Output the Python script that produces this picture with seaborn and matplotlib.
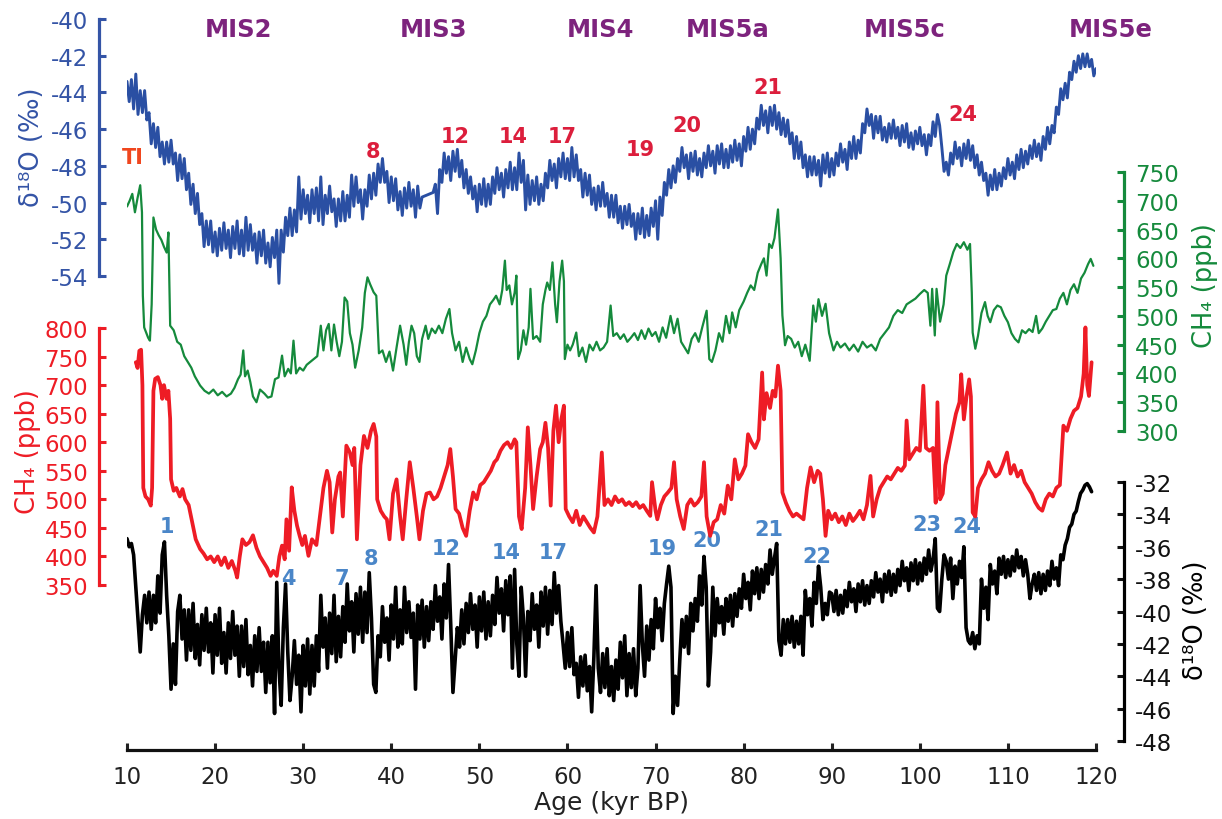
import numpy as np
import matplotlib
matplotlib.use("Agg")
import matplotlib.pyplot as plt
import seaborn as sns

# ---------------- data ----------------
# delta18O (blue, top), read every 0.25 kyr from 10 to 120 kyr BP
blue_age = np.arange(10.0, 120.001, 0.25)
blue_d18o = [
    -43.4, -44.5, -43.3, -44.9, -43.0, -45.2, -43.9, -45.1,
    -43.9, -45.5, -45.1, -46.8, -45.7, -47.0, -45.9, -47.5,
    -46.7, -47.9, -46.7, -47.8, -46.6, -47.9, -47.3, -48.8,
    -47.4, -48.7, -47.6, -49.3, -48.4, -50.1, -49.0, -50.6,
    -49.5, -51.2, -50.6, -52.4, -51.0, -52.3, -51.0, -52.7,
    -51.6, -52.9, -51.4, -52.6, -51.1, -52.5, -51.5, -53.0,
    -51.3, -52.5, -51.0, -52.8, -51.5, -52.9, -50.8, -52.6,
    -51.2, -52.6, -51.7, -53.3, -51.6, -52.9, -51.5, -53.3,
    -52.2, -53.5, -51.9, -53.0, -51.5, -54.4, -51.5, -52.7,
    -50.8, -51.8, -50.3, -51.8, -50.4, -51.6, -48.6, -50.9,
    -49.3, -50.6, -49.6, -51.1, -49.3, -50.6, -49.2, -51.0,
    -48.6, -51.2, -49.6, -50.6, -49.1, -50.5, -49.8, -51.3,
    -49.8, -51.0, -49.4, -51.0, -49.6, -50.8, -48.5, -50.2,
    -48.6, -50.0, -49.3, -50.9, -49.3, -50.2, -48.5, -49.8,
    -48.4, -49.6, -47.9, -48.9, -47.6, -48.9, -48.3, -50.0,
    -48.6, -49.9, -48.7, -50.4, -49.4, -50.7, -49.2, -50.3,
    -48.9, -50.2, -49.3, -50.8, -49.1, -50.3, -49.7, -49.65,
    -49.6, -49.55, -49.5, -49.45, -49.0, -50.6, -48.2, -48.9,
    -47.3, -48.4, -47.5, -48.8, -47.2, -48.3, -47.1, -48.6,
    -47.7, -49.2, -48.2, -49.5, -48.6, -49.8, -49.1, -50.5,
    -49.0, -50.1, -48.7, -50.2, -49.0, -50.1, -48.6, -49.5,
    -48.1, -49.3, -48.4, -49.7, -48.2, -49.2, -47.8, -49.3,
    -48.1, -49.3, -47.3, -48.9, -47.7, -50.4, -48.5, -50.1,
    -48.8, -49.9, -48.6, -50.1, -49.0, -49.9, -48.4, -49.2,
    -47.7, -48.8, -47.9, -49.2, -47.6, -48.6, -47.3, -48.7,
    -47.6, -48.8, -47.0, -48.6, -47.4, -48.8, -48.2, -49.7,
    -48.4, -49.6, -48.5, -50.1, -49.2, -50.4, -49.1, -50.2,
    -48.9, -50.2, -49.5, -50.8, -49.6, -50.8, -49.6, -51.1,
    -50.2, -51.4, -50.2, -51.2, -50.1, -51.3, -50.6, -52.0,
    -50.6, -51.7, -50.3, -51.9, -50.7, -51.8, -50.3, -51.3,
    -49.9, -52.0, -49.7, -50.7, -48.9, -49.6, -48.2, -49.2,
    -48.0, -48.9, -47.6, -48.3, -47.0, -48.1, -47.4, -48.7,
    -47.3, -48.3, -47.2, -48.5, -47.6, -48.6, -47.3, -48.1,
    -46.9, -48.0, -47.2, -48.4, -46.9, -47.9, -46.8, -48.1,
    -47.1, -48.1, -46.9, -47.8, -46.6, -47.7, -46.8, -48.0,
    -46.4, -47.2, -45.9, -47.1, -46.0, -46.8, -45.4, -46.0,
    -44.7, -45.8, -45.0, -46.2, -44.8, -45.8, -44.7, -46.0,
    -45.1, -46.3, -45.4, -46.4, -45.5, -46.8, -46.2, -47.6,
    -46.4, -47.6, -46.7, -48.1, -47.4, -48.6, -47.5, -48.5,
    -47.5, -48.5, -47.7, -49.1, -47.4, -48.4, -47.3, -48.6,
    -47.6, -48.5, -47.3, -48.0, -46.8, -47.8, -47.1, -48.2,
    -46.7, -47.6, -46.4, -47.6, -46.6, -47.3, -45.7, -46.2,
    -44.9, -45.8, -45.2, -46.5, -45.3, -46.2, -45.3, -46.6,
    -45.9, -46.7, -45.7, -46.5, -45.5, -46.5, -45.9, -46.9,
    -45.8, -46.7, -45.7, -47.0, -46.2, -47.1, -46.1, -46.8,
    -45.9, -46.9, -46.3, -47.4, -46.3, -46.9, -45.6, -46.4,
    -45.2, -45.8, -47.0, -48.3, -47.8, -48.5, -47.3, -47.9,
    -46.7, -47.6, -47.0, -48.0, -46.8, -47.6, -46.6, -47.7,
    -46.9, -48.1, -47.4, -48.5, -47.8, -48.8, -48.4, -49.6,
    -48.5, -49.3, -48.2, -49.3, -48.4, -49.1, -48.1, -48.7,
    -47.6, -48.5, -47.8, -48.7, -47.4, -48.2, -47.1, -48.1,
    -47.2, -47.9, -46.9, -47.6, -46.6, -47.5, -46.8, -47.7,
    -46.4, -47.1, -45.9, -46.8, -45.8, -46.2, -44.8, -45.2,
    -43.8, -44.4, -43.5, -44.3, -42.9, -43.3, -42.3, -42.9,
    -42.0, -42.7, -41.9, -42.6, -41.9, -42.6, -42.2, -43.1,
    -42.7,
]

# CH4 (green, upper record)
green_age = [
    10.0, 10.3, 10.6, 10.9, 11.2, 11.5, 11.7, 11.8, 11.95, 12.2, 12.4, 12.6, 12.8, 13.0, 13.3,
    13.6, 13.9, 14.2, 14.5, 14.7, 14.9, 15.3, 15.7, 16.1, 16.5, 16.9, 17.3, 17.7, 18.3, 18.8,
    19.3, 19.8, 20.3, 20.8, 21.3, 21.8, 22.2, 22.6, 22.9, 23.2, 23.4, 23.7, 24.0, 24.3, 24.7,
    25.1, 25.6, 26.0, 26.4, 26.8, 27.2, 27.6, 27.9, 28.3, 28.6, 28.9, 29.2, 29.6, 30.0, 30.4,
    30.8, 31.2, 31.6, 32.0, 32.3, 32.6, 32.9, 33.2, 33.5, 33.8, 34.1, 34.4, 34.7, 35.0, 35.3,
    35.6, 35.9, 36.3, 36.7, 37.0, 37.3, 37.6, 38.0, 38.3, 38.6, 39.0, 39.4, 39.8, 40.2, 40.6,
    41.0, 41.4, 41.7, 42.0, 42.3, 42.6, 42.9, 43.2, 43.5, 43.9, 44.2, 44.6, 45.0, 45.4, 45.8,
    46.2, 46.6, 46.9, 47.3, 47.7, 48.1, 48.5, 48.9, 49.2, 49.6, 50.0, 50.4, 50.8, 51.2, 51.6,
    51.9, 52.3, 52.6, 52.9, 53.1, 53.4, 53.7, 54.0, 54.2, 54.4, 54.7, 55.0, 55.3, 55.6, 55.8,
    56.1, 56.5, 56.9, 57.2, 57.5, 57.7, 58.0, 58.3, 58.6, 58.8, 59.1, 59.4, 59.6, 59.7, 60.0,
    60.3, 60.6, 61.0, 61.3, 61.7, 62.1, 62.5, 62.9, 63.3, 63.7, 64.1, 64.5, 64.9, 65.2, 65.6,
    66.0, 66.4, 66.8, 67.2, 67.6, 68.0, 68.4, 68.8, 69.2, 69.6, 70.0, 70.4, 70.8, 71.2, 71.7,
    72.1, 72.5, 72.9, 73.3, 73.7, 74.1, 74.5, 74.9, 75.3, 75.8, 76.1, 76.4, 76.8, 77.2, 77.6,
    78.0, 78.4, 78.7, 79.1, 79.5, 80.0, 80.4, 80.8, 81.2, 81.6, 82.0, 82.3, 82.6, 82.9, 83.2,
    83.5, 83.9, 84.2, 84.4, 84.7, 85.0, 85.4, 85.8, 86.2, 86.6, 87.0, 87.5, 87.9, 88.2, 88.5,
    88.9, 89.3, 89.7, 90.2, 90.6, 91.0, 91.5, 92.0, 92.5, 93.0, 93.5, 94.0, 94.5, 95.0, 95.5,
    96.0, 96.5, 97.0, 97.5, 98.0, 98.5, 99.0, 99.5, 100.0, 100.5, 100.9, 101.2, 101.4, 101.7, 101.9,
    102.3, 102.7, 103.0, 103.4, 103.8, 104.2, 104.6, 105.0, 105.4, 105.7, 105.9, 106.0, 106.3, 106.6, 107.0,
    107.4, 107.7, 108.0, 108.4, 108.8, 109.2, 109.6, 110.0, 110.4, 110.8, 111.2, 111.6, 112.0, 112.4, 112.8,
    113.2, 113.5, 113.9, 114.3, 114.7, 115.1, 115.5, 115.9, 116.3, 116.7, 117.1, 117.5, 117.9, 118.3, 118.7,
    119.1, 119.4, 119.7,
]
green_ch4 = [
    690, 700, 712, 680, 705, 727, 680, 535, 480, 470, 462, 457, 520, 671, 650,
    640, 632, 620, 610, 645, 483, 475, 455, 450, 430, 420, 410, 395, 379, 370,
    365, 372, 362, 368, 360, 365, 375, 390, 398, 440, 395, 405, 385, 360, 350,
    372, 365, 358, 360, 390, 393, 431, 395, 408, 400, 457, 400, 410, 405, 415,
    420, 425, 430, 483, 440, 475, 486, 440, 485, 455, 430, 455, 532, 525, 470,
    450, 410, 440, 480, 540, 567, 555, 541, 535, 435, 440, 420, 438, 405, 445,
    483, 450, 415, 455, 483, 470, 430, 420, 460, 483, 460, 478, 470, 483, 470,
    495, 512, 470, 440, 455, 420, 445, 425, 416, 440, 470, 490, 500, 520, 528,
    535, 520, 545, 596, 545, 553, 520, 540, 570, 425, 440, 475, 450, 480, 547,
    460, 465, 455, 520, 545, 558, 545, 593, 520, 489, 560, 596, 560, 425, 450,
    440, 450, 471, 430, 445, 420, 450, 440, 455, 440, 445, 455, 518, 465, 470,
    460, 468, 455, 462, 470, 458, 475, 460, 478, 465, 472, 455, 480, 462, 500,
    470, 495, 455, 445, 435, 460, 470, 455, 480, 509, 425, 420, 440, 470, 455,
    500, 470, 506, 480, 510, 525, 540, 553, 545, 575, 590, 600, 570, 625, 618,
    635, 685, 600, 501, 449, 465, 460, 445, 455, 430, 450, 422, 518, 490, 529,
    500, 521, 470, 440, 455, 445, 452, 440, 450, 438, 455, 445, 450, 440, 460,
    470, 480, 500, 510, 505, 520, 525, 530, 538, 545, 540, 483, 547, 466, 547,
    490, 520, 570, 590, 611, 625, 618, 628, 615, 625, 540, 471, 443, 465, 505,
    524, 500, 489, 510, 518, 515, 500, 489, 470, 460, 454, 475, 470, 477, 472,
    500, 470, 478, 490, 500, 510, 512, 530, 540, 520, 545, 555, 540, 565, 575,
    590, 599, 587,
]

# CH4 (red, lower record)
red_age = [
    11.0, 11.2, 11.4, 11.6, 11.75, 11.85, 12.1, 12.4, 12.7, 12.85, 13.0, 13.2, 13.5, 13.8, 14.0,
    14.2, 14.5, 14.7, 14.9, 15.0, 15.3, 15.6, 16.0, 16.3, 16.6, 17.0, 17.4, 17.8, 18.3, 18.7,
    19.1, 19.5, 19.9, 20.3, 20.7, 21.1, 21.5, 21.9, 22.3, 22.5, 22.8, 23.1, 23.5, 23.9, 24.3,
    24.7, 25.1, 25.5, 25.9, 26.3, 26.6, 27.0, 27.3, 27.6, 27.9, 28.1, 28.4, 28.7, 29.0, 29.3,
    29.6, 29.9, 30.2, 30.6, 31.0, 31.5, 31.9, 32.3, 32.7, 33.0, 33.3, 33.6, 34.0, 34.2, 34.5,
    34.9, 35.3, 35.6, 35.8, 36.1, 36.5, 36.9, 37.3, 37.7, 38.0, 38.3, 38.4, 38.8, 39.2, 39.5,
    39.8, 40.2, 40.6, 41.0, 41.3, 41.7, 42.1, 42.5, 42.9, 43.2, 43.6, 44.0, 44.4, 44.8, 45.2,
    45.6, 46.0, 46.4, 46.7, 47.0, 47.3, 47.7, 48.1, 48.5, 48.9, 49.3, 49.7, 50.1, 50.5, 50.9,
    51.3, 51.7, 52.0, 52.4, 52.8, 53.2, 53.6, 54.0, 54.2, 54.5, 54.8, 55.2, 55.5, 55.8, 56.1,
    56.5, 56.9, 57.2, 57.5, 57.8, 58.1, 58.4, 58.7, 59.0, 59.3, 59.6, 59.8, 60.2, 60.6, 61.0,
    61.4, 61.8, 62.2, 62.6, 63.0, 63.4, 63.9, 64.2, 64.6, 65.0, 65.4, 65.8, 66.2, 66.6, 67.0,
    67.4, 67.8, 68.2, 68.6, 69.0, 69.4, 69.6, 70.0, 70.2, 70.6, 71.0, 71.4, 71.8, 72.1, 72.4,
    72.8, 73.2, 73.6, 74.0, 74.4, 74.8, 75.2, 75.5, 75.8, 76.2, 76.6, 77.0, 77.4, 77.8, 78.2,
    78.6, 79.0, 79.4, 79.8, 80.2, 80.5, 80.9, 81.3, 81.7, 82.1, 82.3, 82.6, 83.0, 83.3, 83.6,
    83.9, 84.2, 84.4, 84.8, 85.2, 85.6, 86.0, 86.4, 86.8, 87.2, 87.6, 88.0, 88.4, 88.7, 89.0,
    89.3, 89.6, 90.0, 90.4, 90.8, 91.2, 91.6, 92.0, 92.4, 92.8, 93.2, 93.6, 94.0, 94.4, 94.7,
    95.1, 95.5, 95.9, 96.3, 96.7, 97.1, 97.5, 97.9, 98.3, 98.5, 98.8, 99.2, 99.6, 100.0, 100.4,
    100.7, 101.1, 101.5, 101.8, 102.0, 102.3, 102.6, 102.9, 103.3, 103.7, 104.1, 104.5, 104.7, 105.0, 105.3,
    105.6, 105.8, 106.0, 106.3, 106.6, 107.0, 107.4, 107.8, 108.2, 108.6, 109.0, 109.4, 109.9, 110.3, 110.7,
    111.1, 111.5, 111.9, 112.3, 112.7, 113.1, 113.5, 113.9, 114.3, 114.7, 115.1, 115.5, 115.9, 116.3, 116.7,
    117.1, 117.5, 117.9, 118.3, 118.6, 118.8, 119.0, 119.2, 119.5,
]
red_ch4 = [
    740, 730, 760, 762, 700, 520, 505, 500, 489, 520, 690, 711, 714, 700, 676,
    700, 676, 690, 641, 535, 515, 520, 505, 518, 500, 490, 460, 430, 413, 405,
    395, 400, 390, 400, 385, 398, 380, 392, 375, 363, 400, 430, 420, 425, 437,
    415, 400, 390, 380, 366, 375, 366, 400, 419, 395, 465, 410, 521, 480, 454,
    436, 420, 436, 401, 430, 420, 470, 520, 550, 530, 442, 500, 540, 547, 470,
    594, 582, 560, 590, 430, 560, 611, 590, 620, 632, 610, 500, 480, 470, 465,
    430, 510, 535, 470, 430, 500, 565, 520, 470, 430, 480, 510, 512, 500, 505,
    520, 540, 560, 588, 540, 483, 475, 450, 436, 480, 512, 500, 525, 530, 540,
    550, 565, 570, 585, 595, 600, 590, 605, 600, 470, 448, 520, 626, 560, 483,
    540, 588, 600, 634, 590, 489, 620, 664, 600, 640, 664, 483, 470, 460, 480,
    455, 470, 460, 450, 442, 470, 582, 490, 500, 490, 505, 495, 500, 490, 495,
    488, 495, 485, 490, 480, 471, 530, 480, 465, 490, 505, 512, 520, 565, 500,
    470, 448, 490, 500, 489, 495, 505, 565, 470, 436, 460, 465, 490, 475, 524,
    500, 570, 535, 545, 559, 614, 600, 590, 605, 722, 640, 686, 660, 690, 680,
    734, 690, 512, 494, 480, 470, 475, 470, 465, 520, 556, 530, 550, 545, 500,
    436, 480, 465, 475, 460, 470, 455, 475, 462, 470, 480, 465, 490, 541, 470,
    500, 520, 530, 540, 535, 545, 555, 550, 559, 638, 570, 580, 590, 585, 699,
    590, 585, 590, 494, 670, 500, 510, 560, 590, 620, 650, 670, 719, 640, 680,
    710, 680, 477, 470, 520, 535, 545, 565, 550, 540, 545, 560, 582, 545, 560,
    540, 550, 530, 520, 510, 495, 485, 480, 500, 510, 505, 520, 525, 629, 620,
    641, 655, 660, 680, 720, 801, 700, 681, 740,
]

# delta18O (black, bottom), read every 0.25 kyr from 10 to 119.5 kyr BP
black_age = np.arange(10.0, 119.501, 0.25)
black_d18o = [
    -35.5, -36.0, -35.8, -36.5, -38.5, -40.5, -42.5, -40.2,
    -39.0, -40.7, -38.8, -41.1, -39.0, -40.7, -37.8, -40.1,
    -36.5, -35.7, -39.0, -41.5, -44.8, -42.0, -44.5, -40.0,
    -39.0, -41.7, -39.9, -43.0, -39.9, -42.4, -39.5, -42.9,
    -40.8, -43.3, -40.2, -42.4, -39.8, -42.5, -40.7, -43.8,
    -40.2, -42.7, -39.8, -43.2, -41.3, -43.8, -40.7, -42.9,
    -40.0, -42.7, -40.9, -44.0, -40.9, -43.4, -40.5, -43.9,
    -42.1, -44.6, -41.5, -43.7, -41.0, -43.7, -41.9, -45.0,
    -41.9, -44.4, -41.5, -46.3, -38.2, -43.5, -45.8, -41.0,
    -38.3, -42.5, -45.5, -44.0, -41.8, -44.5, -42.7, -46.2,
    -42.1, -44.6, -41.7, -45.1, -42.1, -44.6, -41.5, -43.7,
    -39.0, -42.2, -40.4, -43.5, -40.1, -42.6, -39.0, -43.1,
    -40.3, -42.8, -39.7, -41.9, -38.3, -41.2, -39.4, -42.5,
    -38.9, -41.4, -38.5, -41.9, -38.8, -41.3, -37.6, -40.4,
    -44.5, -45.0, -41.5, -42.8, -39.7, -41.9, -40.4, -43.0,
    -39.6, -41.7, -38.5, -42.2, -39.9, -42.0, -38.5, -41.3,
    -39.4, -41.6, -40.1, -44.8, -39.6, -41.7, -39.3, -42.2,
    -39.7, -41.8, -39.4, -41.1, -38.4, -40.6, -39.1, -41.7,
    -38.3, -40.4, -37.1, -40.8, -45.0, -43.0, -41.0, -42.2,
    -39.9, -42.0, -39.5, -41.3, -38.9, -41.1, -39.6, -42.2,
    -39.1, -41.2, -38.8, -41.7, -39.4, -41.5, -39.0, -40.8,
    -37.9, -40.1, -38.6, -41.2, -38.1, -40.2, -37.8, -43.5,
    -37.4, -42.0, -44.0, -38.5, -40.4, -44.0, -40.0, -41.8,
    -38.9, -41.1, -39.6, -42.2, -38.8, -40.9, -38.5, -41.4,
    -38.7, -40.8, -37.6, -40.1, -38.4, -40.6, -42.0, -43.5,
    -41.3, -43.4, -41.0, -43.9, -43.2, -45.3, -42.8, -44.6,
    -42.7, -44.9, -43.4, -46.2, -42.8, -38.4, -43.5, -45.0,
    -42.6, -44.7, -42.3, -45.2, -43.4, -45.5, -43.0, -44.8,
    -41.9, -44.1, -41.5, -45.2, -42.6, -44.7, -42.3, -45.2,
    -43.5, -38.4, -42.0, -44.0, -40.9, -43.0, -40.5, -42.3,
    -39.2, -41.0, -39.8, -41.8, -39.5, -38.3, -37.2, -38.5,
    -46.3, -44.0, -45.8, -43.0, -40.5, -42.2, -40.3, -42.6,
    -39.5, -41.2, -39.2, -40.6, -37.8, -39.6, -36.6, -38.5,
    -44.6, -42.5, -38.5, -41.5, -39.2, -40.7, -39.7, -41.4,
    -39.2, -40.6, -39.0, -40.9, -38.9, -40.3, -38.6, -39.8,
    -37.7, -39.2, -38.2, -39.9, -37.5, -38.9, -37.3, -39.2,
    -37.4, -38.8, -37.1, -38.3, -36.2, -37.7, -36.7, -35.8,
    -41.8, -42.7, -40.5, -42.0, -40.5, -41.9, -40.3, -42.2,
    -40.6, -42.0, -40.3, -42.7, -38.7, -40.2, -39.2, -40.9,
    -38.2, -39.5, -37.2, -38.5, -40.5, -39.5, -40.2, -38.8,
    -38.9, -40.0, -38.7, -40.2, -39.0, -40.1, -38.7, -39.7,
    -38.2, -39.4, -38.6, -40.0, -38.3, -39.4, -38.1, -39.6,
    -38.4, -39.5, -38.1, -39.1, -37.6, -38.8, -38.0, -39.4,
    -37.7, -38.8, -37.5, -39.0, -37.7, -38.8, -37.4, -38.4,
    -36.9, -38.1, -37.3, -38.7, -37.0, -38.1, -36.8, -38.3,
    -37.0, -38.1, -36.7, -37.7, -36.2, -37.5, -36.8, -35.5,
    -39.8, -40.0, -38.0, -36.5, -36.9, -38.0, -36.7, -39.2,
    -37.2, -38.3, -36.9, -37.9, -36.0, -41.0, -41.8, -42.0,
    -41.3, -42.3, -41.5, -42.0, -38.0, -39.8, -38.5, -40.5,
    -37.1, -38.3, -37.5, -38.9, -36.7, -37.7, -36.6, -37.9,
    -36.8, -37.8, -36.6, -37.5, -36.2, -37.3, -36.6, -37.8,
    -36.8, -37.7, -39.2, -38.3, -37.7, -38.7, -37.6, -38.9,
    -37.7, -38.7, -37.5, -38.4, -36.9, -38.0, -37.3, -38.4,
    -36.5, -36.8, -35.9, -35.5, -34.8, -34.6, -34.0, -33.8,
    -33.2, -32.7, -32.5, -32.2, -32.1, -32.3, -32.6,
]

# axis ticks
x_ticks = list(range(10, 121, 10))
blue_ticks = list(range(-54, -39, 2))
green_ticks = list(range(300, 751, 50))
red_ticks = list(range(350, 801, 50))
black_ticks = list(range(-48, -31, 2))

# annotations
mis_labels = ["MIS2", "MIS3", "MIS4", "MIS5a", "MIS5c", "MIS5e"]
mis_age = [22.7, 44.8, 63.7, 78.2, 98.3, 121.7]
red_event_labels = ["8", "12", "14", "17", "19", "20", "21", "24"]
red_event_age = [37.9, 47.2, 53.8, 59.4, 68.3, 73.5, 82.8, 104.9]
red_event_d18o = [-47.2, -46.4, -46.4, -46.4, -47.1, -45.8, -43.7, -45.2]
blue_event_labels = ["1", "4", "7", "8", "12", "14", "17", "19", "20", "21", "22", "23", "24"]
blue_event_age = [14.5, 28.3, 34.4, 37.7, 46.2, 53.1, 58.4, 70.8, 75.8, 82.9, 88.3, 100.8, 105.3]
blue_event_d18o = [-34.7, -37.9, -37.9, -36.7, -36.1, -36.3, -36.3, -36.1, -35.6, -34.9, -36.6, -34.6, -34.7]

# ---------------- styling ----------------
sns.set_theme(style="white")
plt.rcParams["font.family"] = ["DejaVu Sans"]
plt.rcParams["axes.unicode_minus"] = False

C_BLUE = "#2a4fa3"
C_BLUE_TXT = "#3454a6"
C_GREEN = "#158a3c"
C_RED = "#ee1c25"
C_BLACK = "#000000"
C_MIS = "#7d237d"
C_EVT_RED = "#dc1e3c"
C_EVT_BLUE = "#4a86c8"
C_TI = "#f0461e"

W, H = 1222, 820
X0, X1 = 127, 1096          # pixel columns of 10 and 120 kyr
T, B = 20, 751              # top / bottom pixel rows of the shared axes box
rect = [X0 / W, 1 - B / H, (X1 - X0) / W, (B - T) / H]


def ylims(v1, p1, v2, p2):
    s = (v2 - v1) / (p2 - p1)
    return v1 + (B - p1) * s, v1 + (T - p1) * s


fig = plt.figure(figsize=(W / 100, H / 100), dpi=100)
fig.patch.set_facecolor("white")

ax_k = fig.add_axes(rect)
ax_r = fig.add_axes(rect, sharex=ax_k)
ax_g = fig.add_axes(rect, sharex=ax_k)
ax_b = fig.add_axes(rect, sharex=ax_k)


def setup(ax, side, lims, ticks, color):
    ax.set_facecolor("none")
    ax.set_xlim(10, 120)
    ax.set_ylim(*lims)
    for s in ["top", "bottom", "left", "right"]:
        ax.spines[s].set_visible(False)
    sp = ax.spines[side]
    sp.set_visible(True)
    sp.set_bounds(ticks[0], ticks[-1])
    sp.set_position(("outward", 20))
    sp.set_color(color)
    sp.set_linewidth(2.3)
    ax.yaxis.set_ticks_position(side)
    ax.set_yticks(ticks)
    ax.tick_params(axis="y", which="both", direction="in", length=5, width=2.2,
                   colors=color, labelsize=16.5, pad=8,
                   left=(side == "left"), right=(side == "right"),
                   labelleft=(side == "left"), labelright=(side == "right"))
    ax.tick_params(axis="x", bottom=False, labelbottom=False, top=False)
    ax.grid(False)


setup(ax_b, "left", ylims(-40, 20, -54, 277), blue_ticks, C_BLUE_TXT)
setup(ax_g, "right", ylims(750, 173, 300, 432), green_ticks, C_GREEN)
setup(ax_r, "left", ylims(800, 329, 350, 586), red_ticks, C_RED)
setup(ax_k, "right", ylims(-32, 483, -48, 742), black_ticks, C_BLACK)

# x axis on the base axes
ax_k.spines["bottom"].set_visible(True)
ax_k.spines["bottom"].set_bounds(10, 120)
ax_k.spines["bottom"].set_color("#111111")
ax_k.spines["bottom"].set_linewidth(2.3)
ax_k.set_xticks(x_ticks)
ax_k.tick_params(axis="x", bottom=True, labelbottom=True, direction="in",
                 length=5, width=2.2, colors="#222222", labelsize=16.5, pad=11)
ax_k.tick_params(axis="y", colors="#111111")

# ---------------- series ----------------
sns.lineplot(x=black_age, y=black_d18o, ax=ax_k, color=C_BLACK, linewidth=2.6,
             estimator=None, sort=False)
sns.lineplot(x=red_age, y=red_ch4, ax=ax_r, color=C_RED, linewidth=2.7,
             estimator=None, sort=False)
sns.lineplot(x=green_age, y=green_ch4, ax=ax_g, color=C_GREEN, linewidth=1.6,
             estimator=None, sort=False)
sns.lineplot(x=blue_age, y=blue_d18o, ax=ax_b, color=C_BLUE, linewidth=2.1,
             estimator=None, sort=False)

for ax in (ax_k, ax_r, ax_g, ax_b):
    ax.set_xlabel("")
    ax.set_ylabel("")
    ax.set_xlim(10, 120)

# ---------------- labels ----------------
fig.text(612 / W, 1 - 803 / H, "Age (kyr BP)", ha="center", va="center",
         fontsize=18, color="#222222")
fig.text(32 / W, 1 - 147 / H, "δ¹⁸O (‰)", ha="center", va="center",
         rotation=90, fontsize=18.5, color=C_BLUE_TXT)
fig.text(28 / W, 1 - 452 / H, "CH₄ (ppb)", ha="center", va="center",
         rotation=90, fontsize=18.5, color=C_RED)
fig.text(1205 / W, 1 - 286 / H, "CH₄ (ppb)", ha="center", va="center",
         rotation=90, fontsize=18.5, color=C_GREEN)
fig.text(1196 / W, 1 - 620 / H, "δ¹⁸O (‰)", ha="center", va="center",
         rotation=90, fontsize=18.5, color=C_BLACK)

for lab, a in zip(mis_labels, mis_age):
    ax_b.text(a, -40.55, lab, ha="center", va="center", fontsize=17.5,
              fontweight="bold", color=C_MIS, clip_on=False)

ax_b.text(10.7, -47.5, "TI", ha="center", va="center", fontsize=15,
          fontweight="bold", color=C_TI, clip_on=False)
for lab, a, v in zip(red_event_labels, red_event_age, red_event_d18o):
    ax_b.text(a, v, lab, ha="center", va="center", fontsize=15,
              fontweight="bold", color=C_EVT_RED, clip_on=False)
for lab, a, v in zip(blue_event_labels, blue_event_age, blue_event_d18o):
    ax_k.text(a, v, lab, ha="center", va="center", fontsize=15,
              fontweight="bold", color=C_EVT_BLUE, clip_on=False)

fig.savefig("out.png", dpi=100, facecolor="white")
